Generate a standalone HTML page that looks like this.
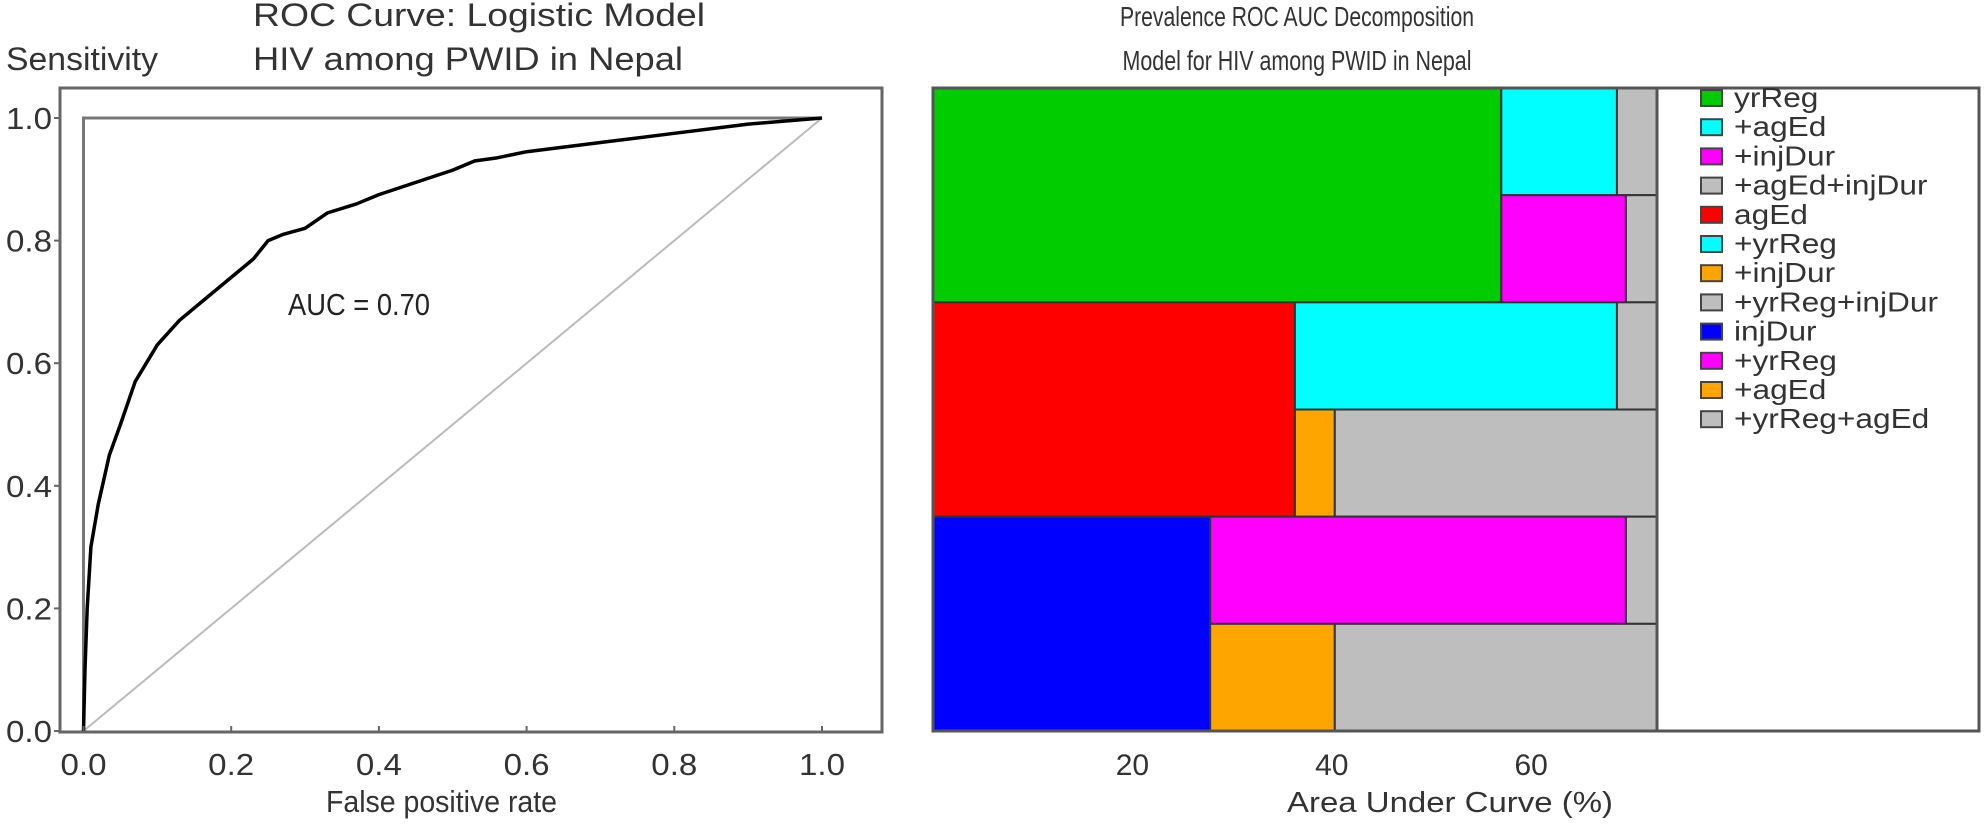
<!DOCTYPE html>
<html><head><meta charset="utf-8"><style>
html,body{margin:0;padding:0;background:#fff;}
svg{display:block;font-family:"Liberation Sans",Arial,sans-serif;}
</style></head><body>
<svg id="chart" width="1984" height="829" viewBox="0 0 1984 829">
<g id="left"></g>
<g id="right"></g>
</svg>
<script>
// ROC curve data
const rocFpr = [0,0.002,0.005,0.01,0.02,0.035,0.05,0.07,0.1,0.13,0.16,0.2,0.23,0.25,0.27,0.3,0.33,0.37,0.4,0.45,0.5,0.53,0.56,0.6,0.7,0.8,0.9,1];
const rocTpr = [0,0.1,0.2,0.3,0.37,0.45,0.5,0.57,0.63,0.67,0.7,0.74,0.77,0.8,0.81,0.82,0.845,0.86,0.875,0.895,0.915,0.93,0.935,0.945,0.96,0.975,0.99,1];
const rocTicks = [0,0.2,0.4,0.6,0.8,1.0];
const rocTickLabels = ["0.0","0.2","0.4","0.6","0.8","1.0"];
const aucLabel = "AUC = 0.70";

// Decomposition data (AUC %) per row: base, top-segment end, bottom-segment end, total
const rowNames = ["yrReg","agEd","injDur"];
const rowBase = [57.0,36.3,27.8];
const rowTopEnd = [68.6,68.6,69.5];
const rowBottomEnd = [69.5,40.3,40.3];
const rowTotal = [72.6,72.6,72.6];
const rowBaseColor = ["#00cc00","#ff0000","#0000ff"];
const rowTopColor = ["#00ffff","#00ffff","#ff00ff"];
const rowBottomColor = ["#ff00ff","#ffa500","#ffa500"];
const aucTicks = [20,40,60];
const legendLabels = ["yrReg","+agEd","+injDur","+agEd+injDur","agEd","+yrReg","+injDur","+yrReg+injDur","injDur","+yrReg","+agEd","+yrReg+agEd"];
const legendColors = ["#00cc00","#00ffff","#ff00ff","#bebebe","#ff0000","#00ffff","#ffa500","#bebebe","#0000ff","#ff00ff","#ffa500","#bebebe"];

const NS="http://www.w3.org/2000/svg";
function mk(parent,tag,attrs,text){const e=document.createElementNS(NS,tag);for(const k in attrs)e.setAttribute(k,attrs[k]);if(text!==undefined)e.textContent=text;parent.appendChild(e);return e;}

// ---- Left ROC chart ----
const L=document.getElementById('left');
const xr=v=>83.5+v*(822-83.5);
const yr=v=>731-v*(731-118);
let t;
t=mk(L,'text',{x:253,y:26,'font-size':32,fill:'#333',textLength:452,lengthAdjust:'spacingAndGlyphs'},"ROC Curve: Logistic Model");

t=mk(L,'text',{x:253,y:70,'font-size':32,fill:'#333',textLength:430,lengthAdjust:'spacingAndGlyphs'},"HIV among PWID in Nepal");

t=mk(L,'text',{x:6,y:70,'font-size':32,fill:'#333',textLength:152,lengthAdjust:'spacingAndGlyphs'},"Sensitivity");

t=mk(L,'rect',{x:60,y:88,width:822,height:644,fill:'none',stroke:'#666','stroke-width':3});

t=mk(L,'polyline',{points:`${xr(0)},${yr(0)} ${xr(0)},${yr(1)} ${xr(1)},${yr(1)}`,fill:'none',stroke:'#777','stroke-width':3});

t=mk(L,'line',{x1:xr(0),y1:yr(0),x2:xr(1),y2:yr(1),stroke:'#bbb','stroke-width':2});

t=mk(L,'polyline',{points:rocFpr.map((f,i)=>xr(f)+','+yr(rocTpr[i])).join(' '),fill:'none',stroke:'#000','stroke-width':3.5,'stroke-linejoin':'round'});

rocTicks.forEach((v,i)=>{
  let e=mk(L,'line',{x1:54,y1:yr(v),x2:60,y2:yr(v),stroke:'#666','stroke-width':2});
  
  e=mk(L,'text',{x:52,y:yr(v)+11,'font-size':31,fill:'#333','text-anchor':'end',textLength:46,lengthAdjust:'spacingAndGlyphs'},rocTickLabels[i]);
  
  e=mk(L,'line',{x1:xr(v),y1:726,x2:xr(v),y2:732,stroke:'#666','stroke-width':2});
  
  e=mk(L,'text',{x:xr(v),y:775,'font-size':31,fill:'#333','text-anchor':'middle',textLength:46,lengthAdjust:'spacingAndGlyphs'},rocTickLabels[i]);
  
});
t=mk(L,'text',{x:326,y:812,'font-size':31,fill:'#333',textLength:231,lengthAdjust:'spacingAndGlyphs'},"False positive rate");

t=mk(L,'text',{x:288,y:315,'font-size':31,fill:'#222',textLength:142,lengthAdjust:'spacingAndGlyphs'},aucLabel);


// ---- Right decomposition chart ----
const R=document.getElementById('right');
const xa=v=>933+v*9.97;
const rowTop=88,rowH=(731-88)/3;
t=mk(R,'text',{x:1297,y:26,'font-size':28,fill:'#333','text-anchor':'middle',textLength:354,lengthAdjust:'spacingAndGlyphs'},"Prevalence ROC AUC Decomposition");

t=mk(R,'text',{x:1297,y:70,'font-size':28,fill:'#333','text-anchor':'middle',textLength:349,lengthAdjust:'spacingAndGlyphs'},"Model for HIV among PWID in Nepal");

rowNames.forEach((n,i)=>{
  const y0=rowTop+i*rowH, h2=rowH/2;
  let e=mk(R,'rect',{x:xa(0),y:y0,width:xa(rowBase[i])-xa(0),height:rowH,fill:rowBaseColor[i],stroke:'#333','stroke-width':2});
  
  e=mk(R,'rect',{x:xa(rowBase[i]),y:y0,width:xa(rowTopEnd[i])-xa(rowBase[i]),height:h2,fill:rowTopColor[i],stroke:'#333','stroke-width':2});
  
  e=mk(R,'rect',{x:xa(rowTopEnd[i]),y:y0,width:xa(rowTotal[i])-xa(rowTopEnd[i]),height:h2,fill:'#bebebe',stroke:'#333','stroke-width':2});
  
  e=mk(R,'rect',{x:xa(rowBase[i]),y:y0+h2,width:xa(rowBottomEnd[i])-xa(rowBase[i]),height:h2,fill:rowBottomColor[i],stroke:'#333','stroke-width':2});
  
  e=mk(R,'rect',{x:xa(rowBottomEnd[i]),y:y0+h2,width:xa(rowTotal[i])-xa(rowBottomEnd[i]),height:h2,fill:'#bebebe',stroke:'#333','stroke-width':2});
  
});
t=mk(R,'rect',{x:933,y:88,width:1046,height:643,fill:'none',stroke:'#555','stroke-width':3});

t=mk(R,'line',{x1:1657,y1:88,x2:1657,y2:731,stroke:'#555','stroke-width':3});

aucTicks.forEach(v=>{
  const e=mk(R,'text',{x:xa(v),y:775,'font-size':30,fill:'#333','text-anchor':'middle'},String(v));
  
});
t=mk(R,'text',{x:1450,y:812,'font-size':29,fill:'#333','text-anchor':'middle',textLength:326,lengthAdjust:'spacingAndGlyphs'},"Area Under Curve (%)");

legendLabels.forEach((lab,i)=>{
  const y=97+i*29.2;
  let e=mk(R,'rect',{x:1701,y:y-7,width:21,height:16,fill:legendColors[i],stroke:'#444','stroke-width':2});
  
  e=mk(R,'text',{x:1734,y:y+10,'font-size':28,fill:'#333'},lab);
  
  const w=e.getComputedTextLength();
  e.setAttribute('textLength',(w*1.13).toFixed(1));
  e.setAttribute('lengthAdjust','spacingAndGlyphs');
});
</script>
</body></html>
